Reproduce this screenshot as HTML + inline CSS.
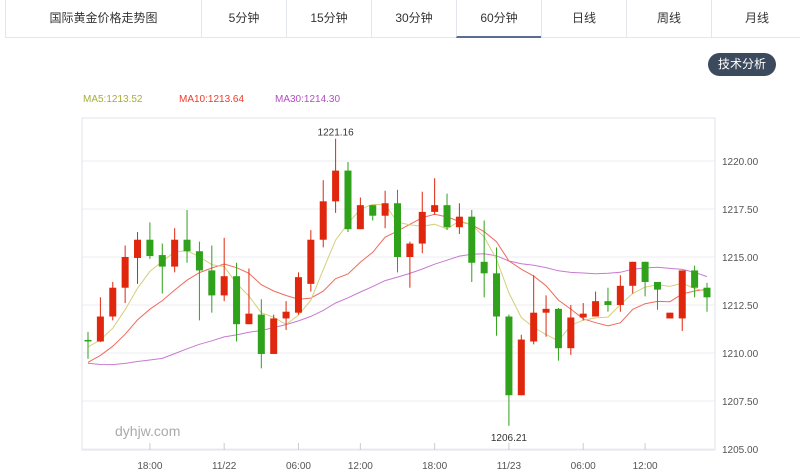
<!DOCTYPE html>
<html><head><meta charset="utf-8"><style>
body{margin:0;width:800px;height:473px;background:#fff;font-family:"Liberation Sans","Noto Sans CJK SC",sans-serif;overflow:hidden;position:relative}
.hdr{position:absolute;left:5px;top:0;width:795px;height:37px;border-bottom:1px solid #e3e6ea;border-left:1px solid #e3e6ea}
.tab{position:absolute;top:0;height:37px;line-height:37px;text-align:center;font-size:12px;color:#333;border-left:1px solid #e3e6ea}
.btn{position:absolute;left:708px;top:53px;width:68px;height:23px;border-radius:12px;background:#3c4a5e;color:#fff;font-size:12px;line-height:23px;text-align:center}
.lg{position:absolute;top:94px;font-size:10px}
</style></head><body>
<div class="hdr">
<div class="tab" style="left:0;width:195px;border-left:none">国际黄金价格走势图</div>
<div class="tab" style="left:195px;width:84px">5分钟</div>
<div class="tab" style="left:280px;width:84px">15分钟</div>
<div class="tab" style="left:365px;width:84px">30分钟</div>
<div class="tab" style="left:450px;width:84px;border-bottom:2px solid #5a6f8f;height:36px">60分钟</div>
<div class="tab" style="left:535px;width:84px">日线</div>
<div class="tab" style="left:620px;width:84px">周线</div>
<div class="tab" style="left:705px;width:90px">月线</div>
</div>
<div class="btn">技术分析</div>
<div class="lg" style="left:83px;color:#a9ad3a">MA5:1213.52</div>
<div class="lg" style="left:179px;color:#f03a2a">MA10:1213.64</div>
<div class="lg" style="left:275px;color:#b04fbf">MA30:1214.30</div>
<svg id="c" width="800" height="473" style="position:absolute;left:0;top:0"></svg>
<script>
const opens=[1210.68,1210.6,1211.9,1213.4,1214.95,1215.9,1215.1,1214.5,1215.9,1215.3,1214.3,1213.0,1214.0,1211.5,1212.0,1209.95,1211.8,1212.1,1213.6,1215.9,1217.9,1219.5,1216.45,1217.7,1217.15,1217.8,1215.0,1215.7,1217.35,1217.7,1216.55,1217.1,1214.75,1214.15,1211.9,1207.8,1210.6,1212.1,1212.3,1210.25,1211.85,1211.9,1212.7,1212.5,1213.5,1214.75,1213.7,1211.8,1211.8,1214.3,1213.4];
const closes=[1210.65,1211.9,1213.4,1215.0,1215.9,1215.05,1214.5,1215.9,1215.3,1214.3,1213.0,1214.0,1211.5,1212.05,1209.95,1211.8,1212.15,1213.95,1215.9,1217.9,1219.5,1216.45,1217.7,1217.15,1217.8,1215.0,1215.7,1217.35,1217.7,1216.55,1217.1,1214.7,1214.15,1211.9,1207.8,1210.7,1212.1,1212.3,1210.25,1211.85,1212.05,1212.7,1212.5,1213.5,1214.75,1213.7,1213.3,1212.1,1214.3,1213.4,1212.9];
const highs=[1211.1,1212.9,1213.7,1215.6,1216.3,1216.8,1215.7,1216.5,1217.45,1215.8,1215.6,1216.0,1214.7,1214.4,1212.8,1212.0,1212.7,1214.2,1216.4,1219.0,1221.16,1219.95,1218.1,1217.7,1218.45,1218.5,1215.8,1218.4,1219.1,1218.3,1217.8,1217.45,1216.9,1215.5,1212.0,1210.95,1214.05,1213.0,1212.35,1212.5,1212.6,1213.2,1213.4,1214.05,1214.75,1214.75,1213.7,1212.1,1214.3,1214.55,1213.65];
const lows=[1209.7,1210.57,1211.7,1212.6,1213.6,1214.9,1213.1,1214.2,1214.7,1211.7,1212.1,1212.7,1210.6,1211.5,1209.2,1209.95,1211.2,1212.0,1213.2,1215.5,1217.3,1216.3,1216.45,1216.9,1216.5,1214.2,1213.4,1215.2,1217.2,1216.4,1216.2,1213.7,1212.9,1210.9,1206.21,1207.8,1210.45,1210.85,1209.6,1209.9,1211.7,1211.9,1212.15,1212.15,1213.1,1212.95,1212.25,1211.8,1211.15,1212.9,1212.15];
const priorCloses=[1213.8,1213.5,1213.2,1213.0,1212.6,1212.0,1208.5,1207.8,1207.2,1207.5,1208.0,1208.3,1207.9,1207.4,1207.0,1207.6,1208.2,1208.8,1208.5,1208.0,1208.3,1208.6,1208.8,1208.4,1209.5,1210.0,1210.4,1210.2,1210.3];
const yTicks=[1220.00,1217.50,1215.00,1212.50,1210.00,1207.50,1205.00];
const xLabels=["18:00","11/22","06:00","12:00","18:00","11/23","06:00","12:00"];
const xLabelIdx=[5,11,17,22,28,34,40,45];
const maxLabel="1221.16",minLabel="1206.21";

const L=82,R=715,T=118,B=450,x0=88,dx=12.38;
const y=v=>161+(1220-v)*19.2;
const x=i=>x0+i*dx;
const svg=document.getElementById('c');
const NS='http://www.w3.org/2000/svg';
function mk(t,a){const e=document.createElementNS(NS,t);for(const k in a)e.setAttribute(k,a[k]);svg.appendChild(e);return e;}
let e=mk('rect',{x:L,y:T,width:R-L,height:B-T,fill:'none',stroke:'#dfe3e8'});


yTicks.forEach(v=>{
 const g=mk('line',{x1:L,x2:R,y1:y(v),y2:y(v),stroke:'#eceef0'});
 
 
 const t=mk('text',{x:722,y:y(v)+4,'font-size':10,fill:'#555'});t.textContent=v.toFixed(2);
 
 
});
xLabels.forEach((s,k)=>{
 const xx=x(xLabelIdx[k]);
 const tk=mk('line',{x1:xx,x2:xx,y1:B-7,y2:B,stroke:'#ccc'});
 
 
 const t=mk('text',{x:xx,y:469,'font-size':10,fill:'#555','text-anchor':'middle'});t.textContent=s;
 
 
});
const wm=mk('text',{x:115,y:436,'font-size':14,fill:'#aaa'});wm.textContent='dyhjw.com';


const all=priorCloses.concat(closes);
function ma(n,col,name){
 let p='';
 closes.forEach((c,i)=>{const j=i+priorCloses.length;let s=0;for(let k=j-n+1;k<=j;k++)s+=all[k];const v=s/n;p+=(i?'L':'M')+x(i).toFixed(1)+' '+y(v).toFixed(1);});
 const l=mk('path',{d:p,fill:'none',stroke:col,'stroke-width':1});
 
 
}
ma(30,'#c77ad0','ma30-line');ma(10,'#f06a5e','ma10-line');ma(5,'#d4cf7a','ma5-line');
opens.forEach((o,i)=>{
 const c=closes[i],up=c>o,col=up?'#e0260c':'#2fa11a';
 const w=mk('line',{x1:x(i),x2:x(i),y1:y(highs[i]),y2:y(lows[i]),stroke:col});
 
 
 const top=y(Math.max(o,c)),h=Math.max(1.5,Math.abs(y(o)-y(c)));
 const r=mk('rect',{x:x(i)-3.5,y:top,width:7,height:h,fill:col});
 
 
});
const hi=highs.indexOf(Math.max(...highs)),lo=lows.indexOf(Math.min(...lows));
let t1=mk('text',{x:x(hi),y:y(highs[hi])-3,'font-size':10,fill:'#333','text-anchor':'middle'});t1.textContent=maxLabel;


let t2=mk('text',{x:x(lo),y:y(lows[lo])+15,'font-size':10,fill:'#333','text-anchor':'middle'});t2.textContent=minLabel;


</script>
</body></html>
